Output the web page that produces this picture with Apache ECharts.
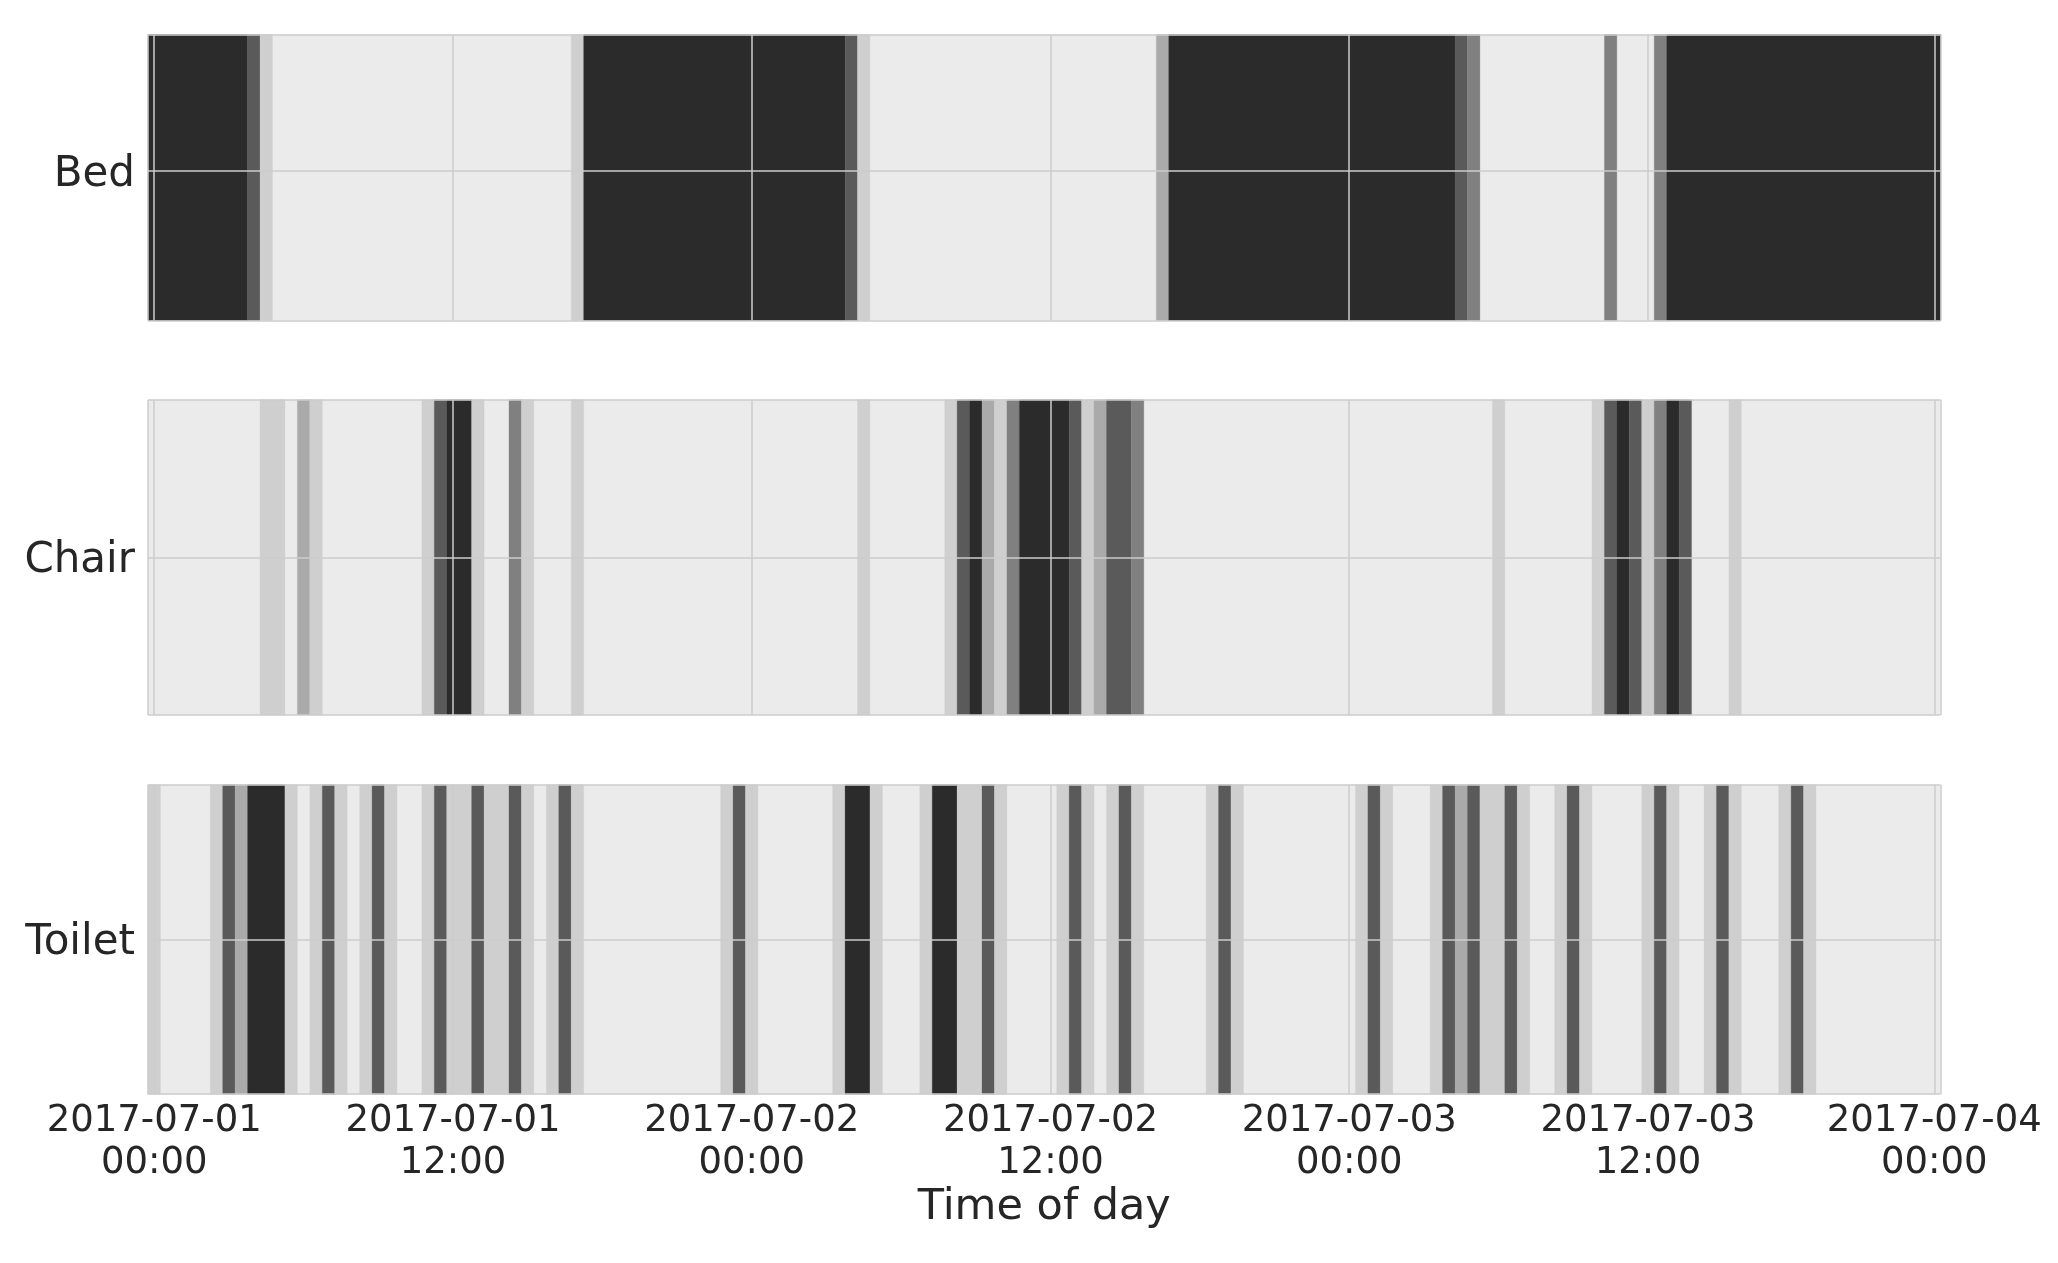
<!DOCTYPE html>
<html>
<head>
<meta charset="utf-8">
<title>Time of day</title>
<script src="https://cdn.jsdelivr.net/npm/echarts@6/dist/echarts.min.js"></script>
<style>
  html, body { margin: 0; padding: 0; background: #ffffff; }
  #chart { width: 2058px; height: 1263px; }
</style>
</head>
<body>
<div id="chart"></div>
<script>
// rows and x ticks (hours from 2017-07-01 00:00, bins of 30 min)
const rowNames = ['Bed', 'Chair', 'Toilet'];
const rowCenters = [0.5227, 0.5, 0.5];
const hourTicks = [0, 12, 24, 36, 48, 60, 71.5];
const tickLabels = [
  '2017-07-01\n00:00', '2017-07-01\n12:00', '2017-07-02\n00:00',
  '2017-07-02\n12:00', '2017-07-03\n00:00', '2017-07-03\n12:00',
  '2017-07-04\n00:00'
];
const hourMin = -0.25;
const hourMax = 71.75;

// grey level 1..5 for each span
const levelColors = ['#ebebeb', '#cfcfcf', '#aaaaaa', '#808080', '#5a5a5a', '#2b2b2b'];

// [start hour, end hour, level]
const bedSpans = [
  [-0.25, 3.75, 5], [3.75, 4.25, 4], [4.25, 4.75, 1],
  [16.75, 17.25, 1], [17.25, 27.75, 5], [27.75, 28.25, 4], [28.25, 28.75, 1],
  [40.25, 40.75, 2], [40.75, 52.25, 5], [52.25, 52.75, 4], [52.75, 53.25, 3],
  [58.25, 58.75, 3], [60.25, 60.75, 3], [60.75, 71.75, 5]
];
const chairSpans = [
  [4.25, 5.25, 1], [5.75, 6.25, 2], [6.25, 6.75, 1],
  [10.75, 11.25, 1], [11.25, 11.75, 4], [11.75, 12.75, 5], [12.75, 13.25, 1],
  [14.25, 14.75, 3], [14.75, 15.25, 1],
  [16.75, 17.25, 1],
  [28.25, 28.75, 1],
  [31.75, 32.25, 1], [32.25, 32.75, 4], [32.75, 33.25, 5], [33.25, 33.75, 2],
  [33.75, 34.25, 1], [34.25, 34.75, 3], [34.75, 36.75, 5], [36.75, 37.25, 4],
  [37.25, 37.75, 1], [37.75, 38.25, 2], [38.25, 39.25, 4], [39.25, 39.75, 3],
  [53.75, 54.25, 1],
  [57.75, 58.25, 1], [58.25, 58.75, 4], [58.75, 59.25, 5], [59.25, 59.75, 4],
  [59.75, 60.25, 1], [60.25, 60.75, 3], [60.75, 61.25, 5], [61.25, 61.75, 4],
  [63.25, 63.75, 1]
];
const toiletSpans = [
  [-0.25, 0.25, 1],
  [2.25, 2.75, 1], [2.75, 3.25, 4], [3.25, 3.75, 2], [3.75, 5.25, 5], [5.25, 5.75, 1],
  [6.25, 6.75, 1], [6.75, 7.25, 4], [7.25, 7.75, 1],
  [8.25, 8.75, 1], [8.75, 9.25, 4], [9.25, 9.75, 1],
  [10.75, 11.25, 1], [11.25, 11.75, 4], [11.75, 12.75, 1], [12.75, 13.25, 4],
  [13.25, 14.25, 1], [14.25, 14.75, 4], [14.75, 15.25, 1],
  [15.75, 16.25, 1], [16.25, 16.75, 4], [16.75, 17.25, 1],
  [22.75, 23.25, 1], [23.25, 23.75, 4], [23.75, 24.25, 1],
  [27.25, 27.75, 1], [27.75, 28.75, 5], [28.75, 29.25, 1],
  [30.75, 31.25, 1], [31.25, 32.25, 5], [32.25, 33.25, 1], [33.25, 33.75, 4], [33.75, 34.25, 1],
  [36.25, 36.75, 1], [36.75, 37.25, 4], [37.25, 37.75, 1],
  [38.25, 38.75, 1], [38.75, 39.25, 4], [39.25, 39.75, 1],
  [42.25, 42.75, 1], [42.75, 43.25, 4], [43.25, 43.75, 1],
  [48.25, 48.75, 1], [48.75, 49.25, 4], [49.25, 49.75, 1],
  [51.25, 51.75, 1], [51.75, 52.25, 4], [52.25, 52.75, 2], [52.75, 53.25, 4],
  [53.25, 54.25, 1], [54.25, 54.75, 4], [54.75, 55.25, 1],
  [56.25, 56.75, 1], [56.75, 57.25, 4], [57.25, 57.75, 1],
  [59.75, 60.25, 1], [60.25, 60.75, 4], [60.75, 61.25, 1],
  [62.25, 62.75, 1], [62.75, 63.25, 4], [63.25, 63.75, 1],
  [65.25, 65.75, 1], [65.75, 66.25, 4], [66.25, 66.75, 1]
];
const rowSpans = [bedSpans, chairSpans, toiletSpans];

const textColor = '#262626';
const gridColor = '#cccccc';
const fontFamily = 'DejaVu Sans';

// panel boxes in px
const panels = [
  { top: 34.5, height: 286 },
  { top: 399.7, height: 315.3 },
  { top: 784.7, height: 309.5 }
];

function renderSpan(params, api) {
  const p0 = api.coord([api.value(0), 1]);
  const p1 = api.coord([api.value(1), 0]);
  const color = levelColors[api.value(2)];
  return {
    type: 'rect',
    shape: { x: p0[0], y: p0[1], width: p1[0] - p0[0], height: p1[1] - p0[1] },
    style: { fill: color, stroke: color, lineWidth: 0.3 }
  };
}

const chart = echarts.init(document.getElementById('chart'), null, { renderer: 'canvas' });

const grids = [];
const xAxes = [];
const yAxes = [];
const series = [];

rowNames.forEach(function (name, i) {
  const last = i === rowNames.length - 1;
  grids.push({
    left: 148,
    right: 117.5,
    top: panels[i].top,
    height: panels[i].height,
    show: true,
    backgroundColor: levelColors[0],
    borderWidth: 0
  });
  xAxes.push({
    type: 'value',
    gridIndex: i,
    min: hourMin,
    max: hourMax,
    z: 5,
    axisLine: { show: false },
    axisTick: { show: false, customValues: [hourMin].concat(hourTicks, [hourMax]) },
    splitLine: { show: true, lineStyle: { color: gridColor, width: 1.5 } },
    axisLabel: {
      show: last,
      customValues: hourTicks,
      margin: 6,
      fontFamily: fontFamily,
      fontSize: 37,
      lineHeight: 42,
      color: textColor,
      formatter: function (v) {
        return tickLabels[hourTicks.indexOf(v)];
      }
    },
    name: last ? 'Time of day' : '',
    nameLocation: 'middle',
    nameGap: 92,
    nameMoveOverlap: false,
    nameTextStyle: { fontFamily: fontFamily, fontSize: 43, color: textColor }
  });
  yAxes.push({
    type: 'value',
    gridIndex: i,
    min: 0,
    max: 1,
    z: 5,
    axisLine: { show: false },
    axisTick: { show: false, customValues: [0, rowCenters[i], 1] },
    splitLine: { show: true, lineStyle: { color: gridColor, width: 1.5 } },
    axisLabel: {
      customValues: [rowCenters[i]],
      margin: 13,
      formatter: function () { return '{n|' + name + '}'; },
      rich: {
        n: {
          fontFamily: fontFamily,
          fontSize: 42,
          color: textColor,
          padding: [8, 0, 0, 0]
        }
      }
    }
  });
  series.push({
    type: 'custom',
    name: name,
    xAxisIndex: i,
    yAxisIndex: i,
    renderItem: renderSpan,
    encode: { x: [0, 1] },
    data: rowSpans[i],
    silent: true
  });
});

chart.setOption({
  animation: false,
  backgroundColor: '#ffffff',
  grid: grids,
  xAxis: xAxes,
  yAxis: yAxes,
  series: series
});
</script>
</body>
</html>
